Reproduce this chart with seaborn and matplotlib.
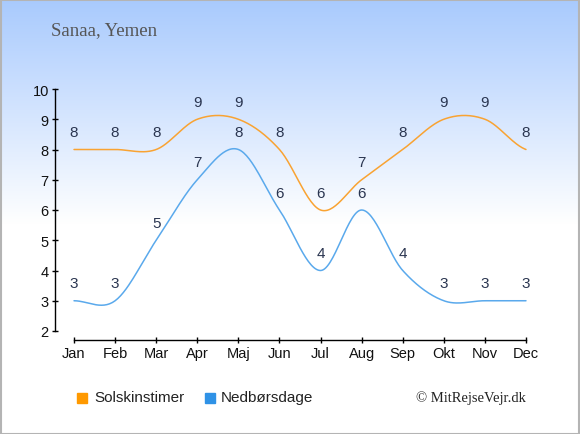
import numpy as np
import pandas as pd
import matplotlib
matplotlib.use("Agg")
import matplotlib.pyplot as plt
import seaborn as sns

months = ["Jan", "Feb", "Mar", "Apr", "Maj", "Jun", "Jul", "Aug", "Sep", "Okt", "Nov", "Dec"]
sun_hours = [8, 8, 8, 9, 9, 8, 6, 7, 8, 9, 9, 8]
rain_days = [3, 3, 5, 7, 8, 6, 4, 6, 4, 3, 3, 3]

title = "Sanaa, Yemen"
credit = "\u00a9 MitRejseVejr.dk"
sun_label = "Solskinstimer"
rain_label = "Nedbørsdage"

sun_color = "#f9a332"
rain_color = "#5aa9ec"
sun_box = "#ff9900"
rain_box = "#2f92e6"
text_color = "#2a3550"


def smooth(xs, ys, steps=30):
    # catmull-rom curve through the points, only for drawing the line
    xs = np.asarray(xs, float)
    ys = np.asarray(ys, float)
    px = np.concatenate([[2 * xs[0] - xs[1]], xs, [2 * xs[-1] - xs[-2]]])
    py = np.concatenate([[ys[0]], ys, [ys[-1]]])
    out_x, out_y = [], []
    t = np.linspace(0, 1, steps, endpoint=False)
    for i in range(1, len(px) - 2):
        for p, out in ((px, out_x), (py, out_y)):
            p0, p1, p2, p3 = p[i - 1], p[i], p[i + 1], p[i + 2]
            out.extend(0.5 * (2 * p1 + (-p0 + p2) * t
                              + (2 * p0 - 5 * p1 + 4 * p2 - p3) * t ** 2
                              + (-p0 + 3 * p1 - 3 * p2 + p3) * t ** 3))
    out_x.append(xs[-1])
    out_y.append(ys[-1])
    return np.array(out_x), np.array(out_y)


sns.set_style("white")
plt.rcParams["font.family"] = ["Liberation Sans", "DejaVu Sans"]

fig = plt.figure(figsize=(5.8, 4.35), dpi=100)

# background gradient: light blue on top fading to white
bg = fig.add_axes([0, 0, 1, 1], zorder=-10)
grad = np.ones((435, 1, 3))
top = np.array([0.660, 0.792, 0.995])
fade = np.clip(np.arange(435) / 225.0, 0, 1)[:, None]
grad[:, 0, :] = top * (1 - fade) + 1.0 * fade
bg.imshow(grad, aspect="auto", extent=[0, 1, 0, 1])
bg.set_axis_off()
border = plt.Rectangle((0.001, 0.001), 0.997, 0.996, transform=fig.transFigure,
                       fill=False, edgecolor="#b4b4b4", linewidth=1.5)
fig.patches.append(border)

# axes box: left spine at x=55, bottom spine at y=341
ax = fig.add_axes([55 / 580, 1 - 341 / 435, 480 / 580, 251 / 435])
ax.patch.set_alpha(0)

x = np.arange(len(months))
df = pd.DataFrame({"month": months, "x": x, "sun": sun_hours, "rain": rain_days})

for col, color in (("sun", sun_color), ("rain", rain_color)):
    sx, sy = smooth(df["x"], df[col])
    sns.lineplot(x=sx, y=sy, ax=ax, color=color, linewidth=1.1, sort=False)
    for xi, yi in zip(df["x"], df[col]):
        ax.annotate(str(yi), (xi, yi), xytext=(0, 7.5), textcoords="offset points",
                    ha="center", va="bottom", fontsize=11, color=text_color)

ax.set_xlim(-19 / 41.06, 11 + 9 / 41.06)
ax.set_ylim(2 - 9 / 30.25, 10)
ax.set_xticks(x)
ax.set_xticklabels(months)
ax.set_yticks(range(2, 11))
ax.set_xlabel("")
ax.set_ylabel("")

for side in ("top", "right"):
    ax.spines[side].set_visible(False)
ax.spines["left"].set_bounds(2, 10)
ax.spines["bottom"].set_bounds(0, 11)
for side in ("left", "bottom"):
    ax.spines[side].set_color("black")
    ax.spines[side].set_linewidth(1.0)
ax.tick_params(axis="both", which="both", direction="inout", length=5, width=1,
               color="black", labelsize=10.5, labelcolor="#111111", pad=2,
               left=True, bottom=True)

fig.text(51 / 580, 1 - 31 / 435, title, family="Liberation Serif", fontsize=13.5,
         color="#555555", ha="left", va="center")

fig.patches.append(plt.Rectangle((77 / 580, 1 - 404 / 435), 10 / 580, 10 / 435,
                                 transform=fig.transFigure, color=sun_box))
fig.text(94 / 580, 1 - 398 / 435, sun_label, fontsize=11, color="#222222",
         ha="left", va="center")
fig.patches.append(plt.Rectangle((205 / 580, 1 - 404 / 435), 10 / 580, 10 / 435,
                                 transform=fig.transFigure, color=rain_box))
fig.text(221 / 580, 1 - 398 / 435, rain_label, fontsize=11, color="#222222",
         ha="left", va="center")

fig.text(526 / 580, 1 - 398 / 435, credit, family="Liberation Serif", fontsize=10.5,
         color="#222222", ha="right", va="center")

fig.savefig("out.png", dpi=100)
